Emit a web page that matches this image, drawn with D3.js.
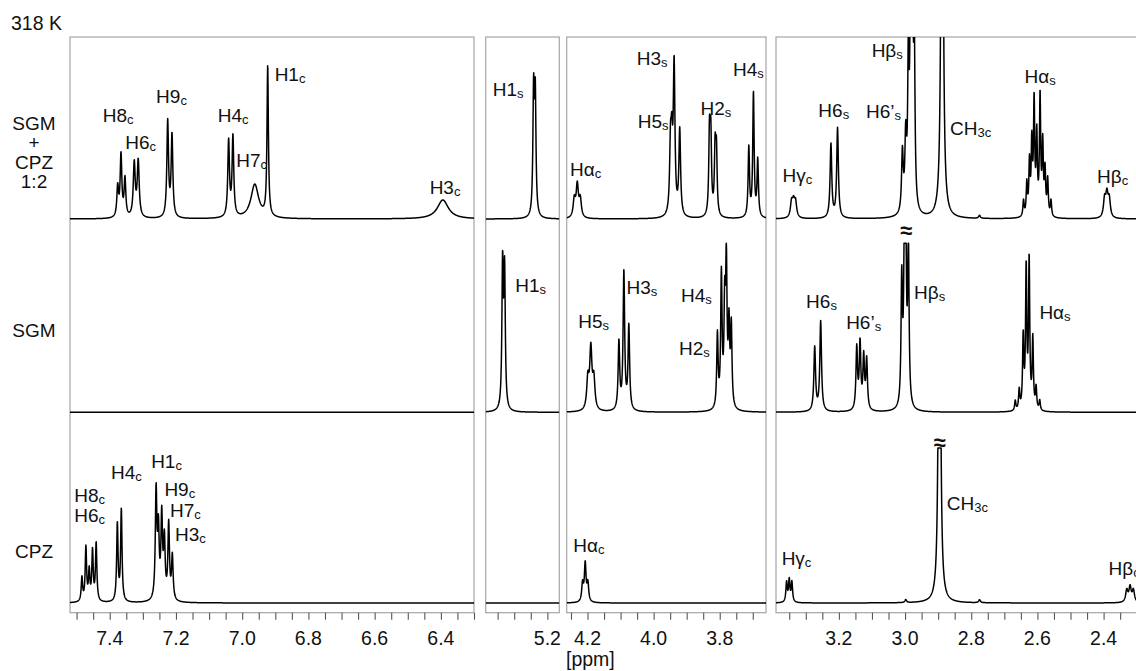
<!DOCTYPE html>
<html><head><meta charset="utf-8">
<script src="https://cdn.jsdelivr.net/npm/d3@7"></script>
<style>
body{margin:0;background:#fff}
svg{display:block}
text{font-family:"Liberation Sans",Arial,Helvetica,sans-serif;fill:#111}
</style>
</head><body>
<svg id="c" width="1136" height="671"></svg>
<script>
// ---------------- DATA ----------------
const panelDomains = [[7.52, 6.30], [5.386, 5.164], [4.263, 3.660], [3.390, 2.290]];
const labeledTicks = [[7.4, 7.2, 7.0, 6.8, 6.6, 6.4], [5.2], [4.2, 4.0, 3.8], [3.2, 3.0, 2.8, 2.6, 2.4]];
const traceNames = [["SGM", "+", "CPZ", "1:2"], ["SGM"], ["CPZ"]];
const temperature = "318 K";
const axisTitle = "[ppm]";

// peaks: [ppm, intensity, half-width (ppm)]
const peaksMix = [
  [7.376, 30, .003], [7.366, 62, .003], [7.354, 38, .003],
  [7.326, 54, .0035], [7.314, 56, .0035],
  [7.225, 96, .003], [7.212, 82, .003],
  [7.041, 76, .003], [7.028, 80, .003],
  [6.962, 34, .014],
  [6.923, 150, .0025],
  [6.394, 19, .02],
  [5.2415, 122, .0025], [5.2365, 118, .0025],
  [4.240, 18, .004], [4.231, 32, .004], [4.222, 18, .004],
  [3.949, 64, .003], [3.945, 60, .003], [3.938, 148, .003], [3.921, 86, .003],
  [3.831, 80, .0025], [3.827, 76, .0025], [3.814, 64, .0025], [3.810, 62, .0025],
  [3.712, 70, .0025], [3.698, 124, .0025], [3.685, 57, .0025],
  [3.343, 15, .004], [3.337, 14, .004], [3.331, 15, .004],
  [3.224, 74, .003], [3.204, 90, .003],
  [3.008, 60, .003], [2.998, 70, .003], [2.990, 140, .0025], [2.983, 230, .0025], [2.978, 230, .0025], [2.972, 150, .0025],
  [2.888, 700, .003],
  [2.775, 3, .003],
  [2.642, 16, .0022], [2.632, 32, .0022], [2.624, 52, .0022], [2.617, 70, .0022], [2.610, 112, .0022], [2.602, 78, .0022],
  [2.592, 118, .0022], [2.584, 70, .0022], [2.577, 44, .0022], [2.569, 36, .0022], [2.559, 16, .0022],
  [2.397, 18, .004], [2.390, 22, .004], [2.383, 18, .004]
];
const peaksSGM = [
  [5.335, 143, .0025], [5.329, 135, .0025],
  [4.199, 30, .004], [4.190, 60, .004], [4.181, 30, .004],
  [4.105, 68, .0028], [4.090, 138, .0028], [4.075, 84, .0028],
  [3.807, 74, .0025], [3.795, 132, .0025], [3.785, 95, .0025], [3.780, 140, .0025], [3.772, 78, .0025], [3.765, 80, .0025],
  [3.273, 64, .003], [3.255, 90, .003],
  [3.146, 62, .0028], [3.136, 66, .0028], [3.125, 52, .0028], [3.116, 50, .0028],
  [3.010, 125, .0025], [3.002, 150, .0025], [2.998, 160, .0025], [2.990, 160, .0025],
  [2.667, 10, .0022], [2.655, 20, .0022], [2.643, 72, .0022], [2.634, 140, .0022], [2.625, 148, .0022],
  [2.614, 70, .0022], [2.604, 22, .0022], [2.593, 10, .0022]
];
const peaksCPZ = [
  [7.484, 24, .0025], [7.472, 54, .0025], [7.462, 30, .0025], [7.452, 50, .0025], [7.441, 58, .0025],
  [7.377, 78, .0025], [7.365, 92, .0025],
  [7.260, 108, .0028], [7.253, 66, .0028], [7.243, 82, .0028], [7.235, 58, .0028], [7.222, 76, .0028], [7.211, 44, .0028],
  [4.215, 18, .003], [4.207, 38, .003], [4.199, 18, .003],
  [3.358, 20, .0025], [3.350, 22, .0025], [3.342, 20, .0025],
  [2.998, 3, .003],
  [2.896, 600, .003],
  [2.775, 3, .003],
  [2.330, 12, .004], [2.320, 15, .004], [2.310, 12, .004]
];
// truncation level of each trace (null = none), drawn with a break mark
const truncation = [null, 169, 155];
// break marks: [trace, ppm, intensity]
const breakMarks = [[1, 2.997, 174], [2, 2.896, 153]];

// labels: [main, subscript, ppm, intensity]
const labelsMix = [
  ["H8", "c", 7.421, 97.3], ["H6", "c", 7.353, 69.7], ["H9", "c", 7.260, 115.7], ["H4", "c", 7.074, 97.3],
  ["H7", "c", 7.018, 52.3], ["H1", "c", 6.902, 138.3], ["H3", "c", 6.434, 24.7],
  ["H1", "s", 5.365, 123.3],
  ["Hα", "c", 4.253, 43], ["H3", "s", 4.051, 154], ["H5", "s", 4.048, 91.3], ["H2", "s", 3.858, 104], ["H4", "s", 3.760, 143],
  ["Hγ", "c", 3.370, 37.3], ["H6", "s", 3.262, 102.3], ["H6’", "s", 3.118, 100.7], ["Hβ", "s", 3.101, 161.7],
  ["CH", "3c", 2.864, 84], ["Hα", "s", 2.639, 135.7], ["Hβ", "c", 2.420, 35.7]
];
const labelsSGM = [
  ["H1", "s", 5.297, 120.6], ["H5", "s", 4.228, 84], ["H3", "s", 4.082, 118], ["H4", "s", 3.917, 110.6],
  ["H2", "s", 3.923, 57.3], ["H6", "s", 3.299, 104.6], ["H6’", "s", 3.178, 83], ["Hβ", "s", 2.973, 113], ["Hα", "s", 2.594, 93]
];
const labelsCPZ = [
  ["H8", "c", 7.507, 101.3], ["H6", "c", 7.507, 81.3], ["H4", "c", 7.396, 123.7], ["H1", "c", 7.275, 134.7],
  ["H9", "c", 7.235, 107.3], ["H7", "c", 7.218, 86], ["H3", "c", 7.203, 62],
  ["Hα", "c", 4.243, 51.3], ["Hγ", "c", 3.373, 38], ["CH", "3c", 2.874, 93], ["Hβ", "c", 2.385, 28]
];

// ---------------- LAYOUT ----------------
const panelPx = [[70, 474], [485.7, 559.3], [566.7, 766], [776, 1140]];
const frameTop = 37, frameBottom = 612.7;
const baselines = [219, 412.3, 603];
const nameLayout = [{x: 34, y: 130, dy: 19.4}, {x: 34, y: 337, dy: 19}, {x: 34, y: 558, dy: 19}];

const svg = d3.select("#c");
const xScales = panelDomains.map((d, i) => d3.scaleLinear().domain(d).range(panelPx[i]));
const yScales = baselines.map(b => d3.scaleLinear().domain([0, 100]).range([b, b - 100]));
const traces = [peaksMix, peaksSGM, peaksCPZ];
const labelSets = [labelsMix, labelsSGM, labelsCPZ];

function panelOf(ppm) {
  for (let i = 0; i < panelDomains.length; i++) {
    if (ppm <= panelDomains[i][0] + 1e-9 && ppm >= panelDomains[i][1] - 1e-9) return i;
  }
  return 0;
}

const defs = svg.append("defs");
panelPx.forEach((p, i) => {
  defs.append("clipPath").attr("id", "clip" + i)
    .append("rect").attr("x", p[0]).attr("y", frameTop).attr("width", p[1] - p[0]).attr("height", frameBottom - frameTop);
});

// frames
panelPx.forEach((p, i) => {
  svg.append("rect").attr("x", p[0]).attr("y", frameTop).attr("width", p[1] - p[0]).attr("height", frameBottom - frameTop)
    .attr("fill", "none").attr("stroke", "#a6a6a6").attr("stroke-width", 1.2);
});

// spectra
function intensity(peaks, v) {
  let s = 0;
  for (const [p, h, g] of peaks) { const d = v - p; s += h * g * g / (g * g + d * d); }
  return s;
}
traces.forEach((peaks, t) => {
  panelDomains.forEach((dom, i) => {
    const n = Math.ceil((dom[0] - dom[1]) / 0.0006);
    const pts = d3.range(n + 1).map(k => {
      const v = dom[0] - k * (dom[0] - dom[1]) / n;
      let y = intensity(peaks, v);
      if (truncation[t] != null) y = Math.min(y, truncation[t]);
      return [v, y];
    });
    const line = d3.line().x(d => xScales[i](d[0])).y(d => yScales[t](d[1]));
    svg.append("path").attr("d", line(pts)).attr("fill", "none").attr("stroke", "#000")
      .attr("stroke-width", 1.5).attr("stroke-linejoin", "round").attr("clip-path", "url(#clip" + i + ")");
  });
});

// axis ticks
panelDomains.forEach((dom, i) => {
  const ax = d3.axisBottom(xScales[i])
    .tickValues(d3.range(Math.ceil(dom[1] * 20 - 1e-6), Math.floor(dom[0] * 20 + 1e-6) + 1).map(k => k / 20))
    .tickSize(7).tickFormat("");
  const g = svg.append("g").attr("transform", `translate(0,${frameBottom})`).call(ax);
  g.select(".domain").remove();
  g.selectAll(".tick line").attr("stroke", "#555").attr("stroke-width", 1.1);
  labeledTicks[i].forEach(v => {
    svg.append("text").attr("x", xScales[i](v)).attr("y", 645).attr("text-anchor", "middle")
      .attr("font-size", 19.5).text(v.toFixed(1));
  });
});
svg.append("text").attr("x", 566).attr("y", 666).attr("font-size", 19.5).text(axisTitle);
svg.append("text").attr("x", 11).attr("y", 30).attr("font-size", 19.5).text(temperature);

// trace names
traceNames.forEach((lines, t) => {
  lines.forEach((s, k) => {
    svg.append("text").attr("x", nameLayout[t].x).attr("y", nameLayout[t].y + k * nameLayout[t].dy)
      .attr("text-anchor", "middle").attr("font-size", 19).text(s);
  });
});

// peak labels
labelSets.forEach((set, t) => {
  set.forEach(([m, sub, ppm, inten]) => {
    const tx = svg.append("text").attr("x", xScales[panelOf(ppm)](ppm)).attr("y", yScales[t](inten)).attr("font-size", 19);
    tx.append("tspan").text(m);
    tx.append("tspan").attr("font-size", 13).attr("dy", 2).text(sub);
  });
});

// break marks
breakMarks.forEach(([t, ppm, inten]) => {
  svg.append("text").attr("x", xScales[panelOf(ppm)](ppm)).attr("y", yScales[t](inten))
    .attr("text-anchor", "middle").attr("font-size", 22).attr("font-weight", "bold").text("≈");
});
</script>
</body></html>
